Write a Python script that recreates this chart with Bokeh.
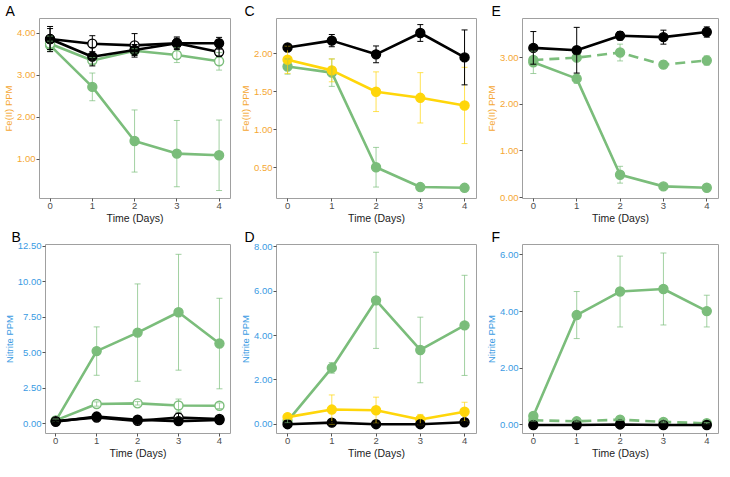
from bokeh.plotting import figure
from bokeh.models import ColumnDataSource, Whisker, TeeHead, FixedTicker, NumeralTickFormatter, Range1d, Title
from bokeh.layouts import row, column
from bokeh.embed import file_html
from bokeh.resources import INLINE

days = [0, 1, 2, 3, 4]
x_ticks = [0, 1, 2, 3, 4]

# Panel A (Fe(II))
a_green_solid = [3.71, 2.72, 1.43, 1.13, 1.09]
a_green_solid_err = [0.10, 0.33, 0.74, 0.79, 0.84]
a_green_open = [3.75, 3.35, 3.58, 3.48, 3.33]
a_green_open_err = [0.18, 0.07, 0.05, 0.18, 0.21]
a_black_open = [3.86, 3.75, 3.71, 3.76, 3.55]
a_black_open_err = [0.25, 0.19, 0.28, 0.12, 0.10]
a_black_fill = [3.86, 3.44, 3.60, 3.76, 3.76]
a_black_fill_err = [0.30, 0.22, 0.13, 0.15, 0.14]
a_yticks = [1, 2, 3, 4]
a_yrange = (0.06, 4.35)

# Panel B (Nitrite)
b_green_solid = [0.22, 5.12, 6.42, 7.85, 5.65]
b_green_solid_err = [0.12, 1.70, 3.42, 4.07, 3.18]
b_green_open = [0.25, 1.40, 1.45, 1.30, 1.28]
b_green_open_err = [0.08, 0.15, 0.12, 0.45, 0.20]
b_black_open = [0.20, 0.45, 0.22, 0.45, 0.35]
b_black_open_err = [0.08, 0.10, 0.12, 0.30, 0.15]
b_black_fill = [0.15, 0.52, 0.30, 0.20, 0.28]
b_black_fill_err = [0.05, 0.10, 0.15, 0.08, 0.12]
b_yticks = [0, 2.5, 5, 7.5, 10, 12.5]
b_yrange = (-0.67, 12.61)

# Panel C (Fe(II))
c_black = [2.08, 2.17, 1.99, 2.27, 1.95]
c_black_err = [0.03, 0.08, 0.11, 0.11, 0.36]
c_yellow = [1.92, 1.78, 1.50, 1.42, 1.32]
c_yellow_err = [0.18, 0.15, 0.26, 0.33, 0.50]
c_green = [1.83, 1.75, 0.51, 0.25, 0.24]
c_green_err = [0.10, 0.18, 0.26, 0.03, 0.01]
c_yticks = [0.5, 1.0, 1.5, 2.0]
c_yrange = (0.10, 2.46)

# Panel D (Nitrite)
d_green = [0.14, 2.54, 5.59, 3.35, 4.46]
d_green_err = [0.08, 0.24, 2.17, 1.48, 2.26]
d_yellow = [0.32, 0.66, 0.63, 0.21, 0.56]
d_yellow_err = [0.08, 0.66, 0.59, 0.23, 0.43]
d_black = [0.00, 0.07, 0.00, 0.00, 0.09]
d_black_err = [0.02, 0.05, 0.02, 0.02, 0.03]
d_yticks = [0, 2, 4, 6, 8]
d_yrange = (-0.42, 8.11)

# Panel E (Fe(II))
e_black = [3.21, 3.16, 3.47, 3.44, 3.55]
e_black_err = [0.35, 0.49, 0.09, 0.15, 0.11]
e_green_dash = [2.95, 3.00, 3.11, 2.85, 2.94]
e_green_dash_err = [0.05, 0.05, 0.18, 0.08, 0.10]
e_green_solid = [2.90, 2.55, 0.49, 0.24, 0.21]
e_green_solid_err = [0.24, 0.10, 0.18, 0.02, 0.02]
e_yticks = [0, 1, 2, 3]
e_yrange = (-0.02, 3.84)

# Panel F (Nitrite)
f_green_solid = [0.32, 3.88, 4.71, 4.80, 4.02]
f_green_solid_err = [0.05, 0.83, 1.25, 1.27, 0.56]
f_green_dash = [0.17, 0.13, 0.19, 0.11, 0.06]
f_green_dash_err = [0.03, 0.02, 0.03, 0.03, 0.03]
f_black = [0.00, 0.00, 0.02, 0.00, 0.00]
f_black_err = [0.01, 0.01, 0.01, 0.01, 0.01]
f_yticks = [0, 2, 4, 6]
f_yrange = (-0.30, 6.37)

panel_letters = ["A", "B", "C", "D", "E", "F"]

GREEN = "#7bbd7b"
BLACK = "#000000"
YELLOW = "#ffd60a"
ORANGE = "#f5a733"
BLUE = "#3a9be3"
FONT = "Liberation Sans"


def panel(w, h, bl, br, bt, bb, yr, yticks, ycolor, ylabel, letter, loff):
    p = figure(width=w, height=h, x_range=Range1d(-0.25, 4.27), y_range=Range1d(*yr),
               output_backend="svg", toolbar_location=None,
               min_border_left=bl, min_border_right=br, min_border_top=bt, min_border_bottom=bb)
    p.add_layout(Title(text=letter, align="left", offset=loff, standoff=0,
                       text_font=FONT, text_font_size="14px", text_font_style="normal",
                       text_color="black"), "above")
    p.grid.visible = False
    p.outline_line_color = "#a0a0a0"
    p.outline_line_width = 1
    for ax in (p.xaxis[0], p.yaxis[0]):
        ax.axis_line_color = None
        ax.major_tick_line_color = "#555555"
        ax.major_tick_out = 3
        ax.major_tick_in = 0
        ax.minor_tick_line_color = None
        ax.major_label_text_font = FONT
        ax.major_label_text_font_size = "9.5px"
        ax.axis_label_text_font = FONT
        ax.axis_label_text_font_style = "normal"
        ax.major_label_standoff = 1
        ax.axis_label_standoff = 0
    p.xaxis.ticker = FixedTicker(ticks=x_ticks)
    p.xaxis.major_label_text_color = "#4d4d4d"
    p.xaxis.axis_label = "Time (Days)"
    p.xaxis.axis_label_text_font_size = "10.5px"
    p.xaxis.axis_label_text_color = "#222222"
    p.yaxis.ticker = FixedTicker(ticks=yticks)
    p.yaxis.formatter = NumeralTickFormatter(format="0.00")
    p.yaxis.major_label_text_color = ycolor
    p.yaxis.axis_label = ylabel
    p.yaxis.axis_label_text_color = ycolor
    p.yaxis.axis_label_text_font_size = "9.5px"
    return p


def series(p, y, err, color, fill, dash="solid", err_alpha=0.7, err_width=1.0):
    src = ColumnDataSource(dict(x=days, y=y,
                                lo=[v - e for v, e in zip(y, err)],
                                hi=[v + e for v, e in zip(y, err)]))
    w = Whisker(base="x", upper="hi", lower="lo", source=src, line_color=color,
                line_alpha=err_alpha, line_width=err_width, level="glyph",
                upper_head=TeeHead(size=6, line_color=color, line_alpha=err_alpha, line_width=err_width),
                lower_head=TeeHead(size=6, line_color=color, line_alpha=err_alpha, line_width=err_width))
    p.add_layout(w)
    p.line("x", "y", source=src, line_color=color, line_width=2.6, line_dash=dash)
    p.scatter("x", "y", source=src, size=9, fill_color=fill, line_color=color, line_width=1.4)


W1, W2, W3 = 236, 242, 242
H1, H2 = 226, 235

pA = panel(W1, H1, 36, 6, 14, 24, a_yrange, a_yticks, ORANGE, "Fe(II) PPM", panel_letters[0], -34)
series(pA, a_green_solid, a_green_solid_err, GREEN, GREEN)
series(pA, a_green_open, a_green_open_err, GREEN, "white")
series(pA, a_black_open, a_black_open_err, BLACK, "white", err_alpha=1.0)
series(pA, a_black_fill, a_black_fill_err, BLACK, BLACK, err_alpha=1.0)

pC = panel(W2, H1, 40, 2, 14, 24, c_yrange, c_yticks, ORANGE, "Fe(II) PPM", panel_letters[2], -32)
series(pC, c_green, c_green_err, GREEN, GREEN)
series(pC, c_yellow, c_yellow_err, YELLOW, YELLOW)
series(pC, c_black, c_black_err, BLACK, BLACK, err_alpha=1.0)

pE = panel(W3, H1, 44, 2, 14, 24, e_yrange, e_yticks, ORANGE, "Fe(II) PPM", panel_letters[4], -31)
series(pE, e_green_solid, e_green_solid_err, GREEN, GREEN)
series(pE, e_green_dash, e_green_dash_err, GREEN, GREEN, dash="10 6")
series(pE, e_black, e_black_err, BLACK, BLACK, err_alpha=1.0)

pB = panel(W1, H2, 36, 6, 14, 24, b_yrange, b_yticks, BLUE, "Nitrite PPM", panel_letters[1], -34)
series(pB, b_green_solid, b_green_solid_err, GREEN, GREEN)
series(pB, b_green_open, b_green_open_err, GREEN, "white")
series(pB, b_black_open, b_black_open_err, BLACK, "white", err_alpha=1.0)
series(pB, b_black_fill, b_black_fill_err, BLACK, BLACK, err_alpha=1.0)

pD = panel(W2, H2, 40, 2, 14, 24, d_yrange, d_yticks, BLUE, "Nitrite PPM", panel_letters[3], -32)
series(pD, d_green, d_green_err, GREEN, GREEN)
series(pD, d_yellow, d_yellow_err, YELLOW, YELLOW)
series(pD, d_black, d_black_err, BLACK, BLACK, err_alpha=1.0)

pF = panel(W3, H2, 44, 2, 14, 24, f_yrange, f_yticks, BLUE, "Nitrite PPM", panel_letters[5], -31)
series(pF, f_green_solid, f_green_solid_err, GREEN, GREEN)
series(pF, f_green_dash, f_green_dash_err, GREEN, GREEN, dash="10 6")
series(pF, f_black, f_black_err, BLACK, BLACK, err_alpha=1.0)

layout = column(row(pA, pC, pE), row(pB, pD, pF))
open("out.html", "w").write(file_html(layout, INLINE))
